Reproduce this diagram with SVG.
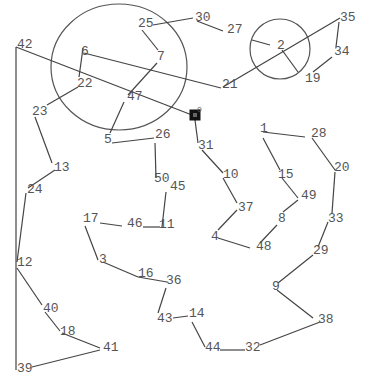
<svg xmlns="http://www.w3.org/2000/svg" width="368" height="378" viewBox="0 0 368 378">
<style>
.e{stroke:#444;stroke-width:1.2;fill:none}
.c{stroke:#555;stroke-width:1.2;fill:none}
text{font-family:"Liberation Mono","DejaVu Sans Mono",monospace;font-size:13px;fill:#555}
</style>
<rect width="368" height="378" fill="#fff"/>
<g id="circles">
<ellipse class="c" cx="119" cy="67" rx="68" ry="63"/>
<circle class="c" cx="280" cy="49" r="30"/>
</g>
<g id="connectors">
<line class="e" x1="16" y1="47" x2="192" y2="115"/>
<line class="e" x1="16" y1="47" x2="16" y2="370"/>
<line class="e" x1="84" y1="53" x2="221" y2="88"/>
<line class="e" x1="83" y1="48" x2="79" y2="77"/>
<line class="e" x1="78" y1="87" x2="47" y2="105"/>
<line class="e" x1="35" y1="117" x2="52" y2="163"/>
<line class="e" x1="55" y1="170" x2="28" y2="188"/>
<line class="e" x1="26" y1="193" x2="17" y2="262"/>
<line class="e" x1="17" y1="268" x2="42" y2="305"/>
<line class="e" x1="45" y1="312" x2="60" y2="331"/>
<line class="e" x1="62" y1="333" x2="100" y2="348"/>
<line class="e" x1="100" y1="350" x2="32" y2="367"/>
<line class="e" x1="110" y1="133" x2="124" y2="102"/>
<line class="e" x1="128" y1="95" x2="157" y2="63"/>
<line class="e" x1="158" y1="50" x2="142" y2="30"/>
<line class="e" x1="153" y1="25" x2="193" y2="18"/>
<line class="e" x1="197" y1="21" x2="223" y2="31"/>
<line class="e" x1="252" y1="40" x2="270" y2="45"/>
<line class="e" x1="282" y1="50" x2="298" y2="72"/>
<line class="e" x1="223" y1="87" x2="340" y2="18"/>
<line class="e" x1="339" y1="22" x2="336" y2="47"/>
<line class="e" x1="332" y1="57" x2="313" y2="72"/>
<line class="e" x1="195" y1="120" x2="198" y2="143"/>
<line class="e" x1="202" y1="150" x2="223" y2="173"/>
<line class="e" x1="223" y1="178" x2="237" y2="203"/>
<line class="e" x1="237" y1="210" x2="218" y2="230"/>
<line class="e" x1="218" y1="238" x2="250" y2="248"/>
<line class="e" x1="260" y1="243" x2="277" y2="225"/>
<line class="e" x1="283" y1="212" x2="298" y2="200"/>
<line class="e" x1="298" y1="198" x2="282" y2="178"/>
<line class="e" x1="280" y1="170" x2="263" y2="138"/>
<line class="e" x1="263" y1="132" x2="305" y2="137"/>
<line class="e" x1="312" y1="138" x2="335" y2="170"/>
<line class="e" x1="335" y1="172" x2="332" y2="213"/>
<line class="e" x1="328" y1="222" x2="318" y2="247"/>
<line class="e" x1="313" y1="255" x2="278" y2="283"/>
<line class="e" x1="277" y1="290" x2="313" y2="318"/>
<line class="e" x1="320" y1="322" x2="260" y2="345"/>
<line class="e" x1="245" y1="350" x2="220" y2="350"/>
<line class="e" x1="205" y1="347" x2="192" y2="322"/>
<line class="e" x1="173" y1="318" x2="188" y2="316"/>
<line class="e" x1="158" y1="313" x2="166" y2="288"/>
<line class="e" x1="167" y1="282" x2="138" y2="277"/>
<line class="e" x1="138" y1="277" x2="103" y2="262"/>
<line class="e" x1="98" y1="260" x2="85" y2="226"/>
<line class="e" x1="100" y1="223" x2="122" y2="226"/>
<line class="e" x1="143" y1="227" x2="160" y2="227"/>
<line class="e" x1="162" y1="227" x2="166" y2="192"/>
<line class="e" x1="155" y1="143" x2="156" y2="178"/>
<line class="e" x1="154" y1="138" x2="112" y2="143"/>
</g>
<g id="n0"><rect x="190" y="110" width="10" height="10" fill="#111" stroke="#111"/><rect x="193" y="113" width="4" height="4" fill="#666"/><text x="197" y="112" style="font-size:8px">0</text></g>
<g id="n1"><text x="260" y="132">1</text></g>
<g id="n2"><text x="277" y="49">2</text></g>
<g id="n3"><text x="99" y="263">3</text></g>
<g id="n4"><text x="211" y="240">4</text></g>
<g id="n5"><text x="104" y="143">5</text></g>
<g id="n6"><text x="81" y="55">6</text></g>
<g id="n7"><text x="157" y="60">7</text></g>
<g id="n8"><text x="278" y="222">8</text></g>
<g id="n9"><text x="272" y="290">9</text></g>
<g id="n10"><text x="223" y="178">10</text></g>
<g id="n11"><text x="159" y="228">11</text></g>
<g id="n12"><text x="17" y="266">12</text></g>
<g id="n13"><text x="54" y="171">13</text></g>
<g id="n14"><text x="189" y="317">14</text></g>
<g id="n15"><text x="278" y="178">15</text></g>
<g id="n16"><text x="138" y="277">16</text></g>
<g id="n17"><text x="83" y="222">17</text></g>
<g id="n18"><text x="60" y="335">18</text></g>
<g id="n19"><text x="305" y="82">19</text></g>
<g id="n20"><text x="334" y="171">20</text></g>
<g id="n21"><text x="222" y="88">21</text></g>
<g id="n22"><text x="77" y="87">22</text></g>
<g id="n23"><text x="32" y="115">23</text></g>
<g id="n24"><text x="27" y="193">24</text></g>
<g id="n25"><text x="138" y="27">25</text></g>
<g id="n26"><text x="155" y="138">26</text></g>
<g id="n27"><text x="227" y="33">27</text></g>
<g id="n28"><text x="311" y="137">28</text></g>
<g id="n29"><text x="313" y="254">29</text></g>
<g id="n30"><text x="195" y="21">30</text></g>
<g id="n31"><text x="198" y="149">31</text></g>
<g id="n32"><text x="245" y="351">32</text></g>
<g id="n33"><text x="328" y="222">33</text></g>
<g id="n34"><text x="334" y="55">34</text></g>
<g id="n35"><text x="340" y="21">35</text></g>
<g id="n36"><text x="166" y="284">36</text></g>
<g id="n37"><text x="238" y="211">37</text></g>
<g id="n38"><text x="318" y="323">38</text></g>
<g id="n39"><text x="17" y="372">39</text></g>
<g id="n40"><text x="43" y="312">40</text></g>
<g id="n41"><text x="103" y="351">41</text></g>
<g id="n42"><text x="17" y="48">42</text></g>
<g id="n43"><text x="157" y="322">43</text></g>
<g id="n44"><text x="205" y="351">44</text></g>
<g id="n45"><text x="170" y="190">45</text></g>
<g id="n46"><text x="127" y="227">46</text></g>
<g id="n47"><text x="127" y="100">47</text></g>
<g id="n48"><text x="256" y="250">48</text></g>
<g id="n49"><text x="301" y="199">49</text></g>
<g id="n50"><text x="154" y="182">50</text></g>
</svg>
